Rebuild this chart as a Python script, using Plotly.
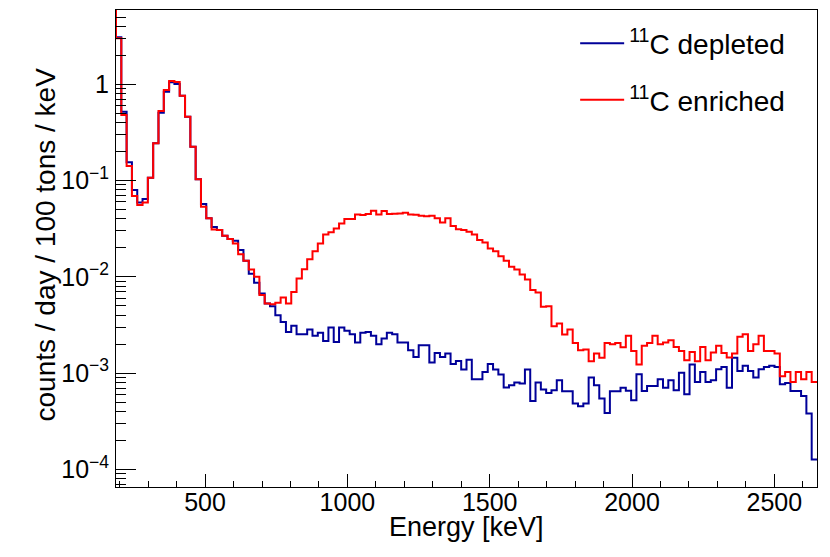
import numpy as np
import plotly.graph_objects as go

# energy axis limits (keV); the histogram bins fill this range evenly
E_LO, E_HI = 187.0, 2650.0

# counts / day / 100 tons / keV, one value per bin.
# first entry is the bin just left of the frame (off scale, only its edge shows)
depleted = [
    8.0,
    3.08, 0.519, 0.155, 0.0796, 0.0593, 0.0642, 0.107, 0.244, 0.507, 0.838,
    1.05, 1.01, 0.761, 0.461, 0.224, 0.103, 0.0570, 0.0405, 0.0329, 0.0306,
    0.0267, 0.0247, 0.0237, 0.0190, 0.0147, 0.0108, 0.00867, 0.00672, 0.00529, 0.00496,
    0.00400, 0.00340, 0.00268, 0.00310, 0.00254, 0.00254, 0.00284, 0.00244, 0.00262, 0.00216,
    0.00298, 0.00211, 0.00298, 0.00275, 0.00254, 0.00208, 0.00262, 0.00268, 0.00244, 0.00200,
    0.00229, 0.00262, 0.00254, 0.00208, 0.00208, 0.00173, 0.00147, 0.00195, 0.00195, 0.00129,
    0.00162, 0.00147, 0.00160, 0.00124, 0.00134, 0.00109, 0.00138, 0.000865, 0.000865, 0.00103,
    0.00124, 0.00109, 0.000967, 0.000708, 0.000748, 0.000798, 0.000780, 0.00109, 0.000514, 0.000798,
    0.000676, 0.000622, 0.000664, 0.000844, 0.000648, 0.000648, 0.000483, 0.000453, 0.000483, 0.000900,
    0.000748, 0.000545, 0.000386, 0.000648, 0.000648, 0.000705, 0.000656, 0.000523, 0.000975, 0.000652,
    0.000736, 0.000736, 0.000865, 0.000705, 0.000844, 0.000664, 0.00101, 0.000604, 0.00123, 0.000810,
    0.00103, 0.000810, 0.000844, 0.00110, 0.00116, 0.000705, 0.00144, 0.00105, 0.00119, 0.00105,
    0.000900, 0.00110, 0.00116, 0.00119, 0.00116, 0.000767, 0.000791, 0.000652, 0.000652, 0.000579,
    0.000380, 0.000127,
]
enriched = [
    8.0,
    3.01, 0.480, 0.142, 0.0690, 0.0556, 0.0593, 0.107, 0.244, 0.528, 0.873,
    1.08, 1.06, 0.761, 0.461, 0.224, 0.103, 0.0534, 0.0405, 0.0311, 0.0306,
    0.0267, 0.0247, 0.0222, 0.0172, 0.0147, 0.0119, 0.0100, 0.00646, 0.00529, 0.00520,
    0.00537, 0.00611, 0.00529, 0.00698, 0.00962, 0.0120, 0.0152, 0.0185, 0.0222, 0.0276,
    0.0290, 0.0318, 0.0359, 0.0398, 0.0398, 0.0445, 0.0438, 0.0449, 0.0486, 0.0445,
    0.0482, 0.0449, 0.0452, 0.0456, 0.0463, 0.0445, 0.0441, 0.0431, 0.0425, 0.0431,
    0.0407, 0.0366, 0.0405, 0.0337, 0.0313, 0.0306, 0.0294, 0.0276, 0.0241, 0.0228,
    0.0197, 0.0185, 0.0164, 0.0147, 0.0127, 0.0119, 0.0106, 0.0094, 0.00728, 0.00689,
    0.00488, 0.00496, 0.00307, 0.00328, 0.00252, 0.00284, 0.00206, 0.00173, 0.00176, 0.00133,
    0.00160, 0.00144, 0.00206, 0.00200, 0.00206, 0.00186, 0.00244, 0.00170, 0.00123, 0.00192,
    0.00206, 0.00244, 0.00200, 0.00208, 0.00220, 0.00187, 0.00170, 0.00136, 0.00166, 0.00133,
    0.00187, 0.00136, 0.00164, 0.00192, 0.00162, 0.00145, 0.00160, 0.00238, 0.00254, 0.00170,
    0.00200, 0.00244, 0.00170, 0.00170, 0.00160, 0.000929, 0.00103, 0.000810, 0.00103, 0.000865,
    0.00103, 0.000810,
]

series = [
    ("<sup>11</sup>C depleted", depleted, "#000099"),
    ("<sup>11</sup>C enriched", enriched, "#ff0000"),
]

n_bins = len(depleted) - 1
bin_w = (E_HI - E_LO) / n_bins
edges = E_LO + bin_w * np.arange(-1, n_bins + 1)

y_major = [1e-4, 1e-3, 1e-2, 1e-1, 1]
y_major_text = ["10<sup>\u22124</sup>", "10<sup>\u22123</sup>", "10<sup>\u22122</sup>",
                "10<sup>\u22121</sup>", "1"]
y_minor = [k * 10.0 ** e for e in range(-5, 1) for k in range(2, 10)]

fig = go.Figure()
for i, (name, vals, color) in enumerate(series):
    fig.add_trace(go.Scatter(
        x=edges,
        y=list(vals) + [vals[-1]],
        mode="lines",
        line=dict(color=color, width=2, shape="hv"),
        name=name,
        legendgroup=f"g{i}",
    ))

# the page body adds 8px on the top and left, so the figure is 8px smaller
fig.update_layout(
    width=822,
    height=549,
    margin=dict(l=108, r=13, t=2, b=70),
    paper_bgcolor="white",
    plot_bgcolor="white",
    font=dict(family="Liberation Sans, Arial, sans-serif", size=25, color="black"),
    legend=dict(
        x=0.655, y=0.982, xanchor="left", yanchor="top",
        bgcolor="rgba(0,0,0,0)", font=dict(size=28),
        tracegroupgap=17, itemwidth=44,
    ),
    annotations=[
        dict(text="Energy [keV]", xref="paper", yref="paper", x=0.5, y=0,
             xanchor="center", yanchor="middle", yshift=-40, showarrow=False,
             font=dict(size=27)),
        dict(text="counts / day / 100 tons / keV", xref="paper", yref="paper",
             x=0, y=0.5, xanchor="center", yanchor="middle", xshift=-71, yshift=4,
             textangle=-90, showarrow=False, font=dict(size=28)),
    ],
)
fig.update_xaxes(
    range=[E_LO, E_HI],
    automargin=False,
    showline=True, mirror=True, linecolor="black", linewidth=1,
    showgrid=False, zeroline=False,
    ticks="inside", ticklen=13, tickwidth=1, tickcolor="black",
    tick0=0, dtick=500, ticklabelstandoff=-7,
    minor=dict(ticks="inside", ticklen=6, tick0=0, dtick=100, tickcolor="black", showgrid=False),
)
fig.update_yaxes(
    type="log",
    range=[-4.183, 0.772],
    automargin=False,
    showline=True, mirror=True, linecolor="black", linewidth=1,
    showgrid=False, zeroline=False,
    ticks="inside", ticklen=20, tickwidth=1, tickcolor="black",
    tickmode="array", tickvals=y_major, ticktext=y_major_text, ticklabelstandoff=1,
    minor=dict(ticks="inside", ticklen=10, tickvals=y_minor, tickcolor="black", showgrid=False),
)

fig.write_html("out.html")
